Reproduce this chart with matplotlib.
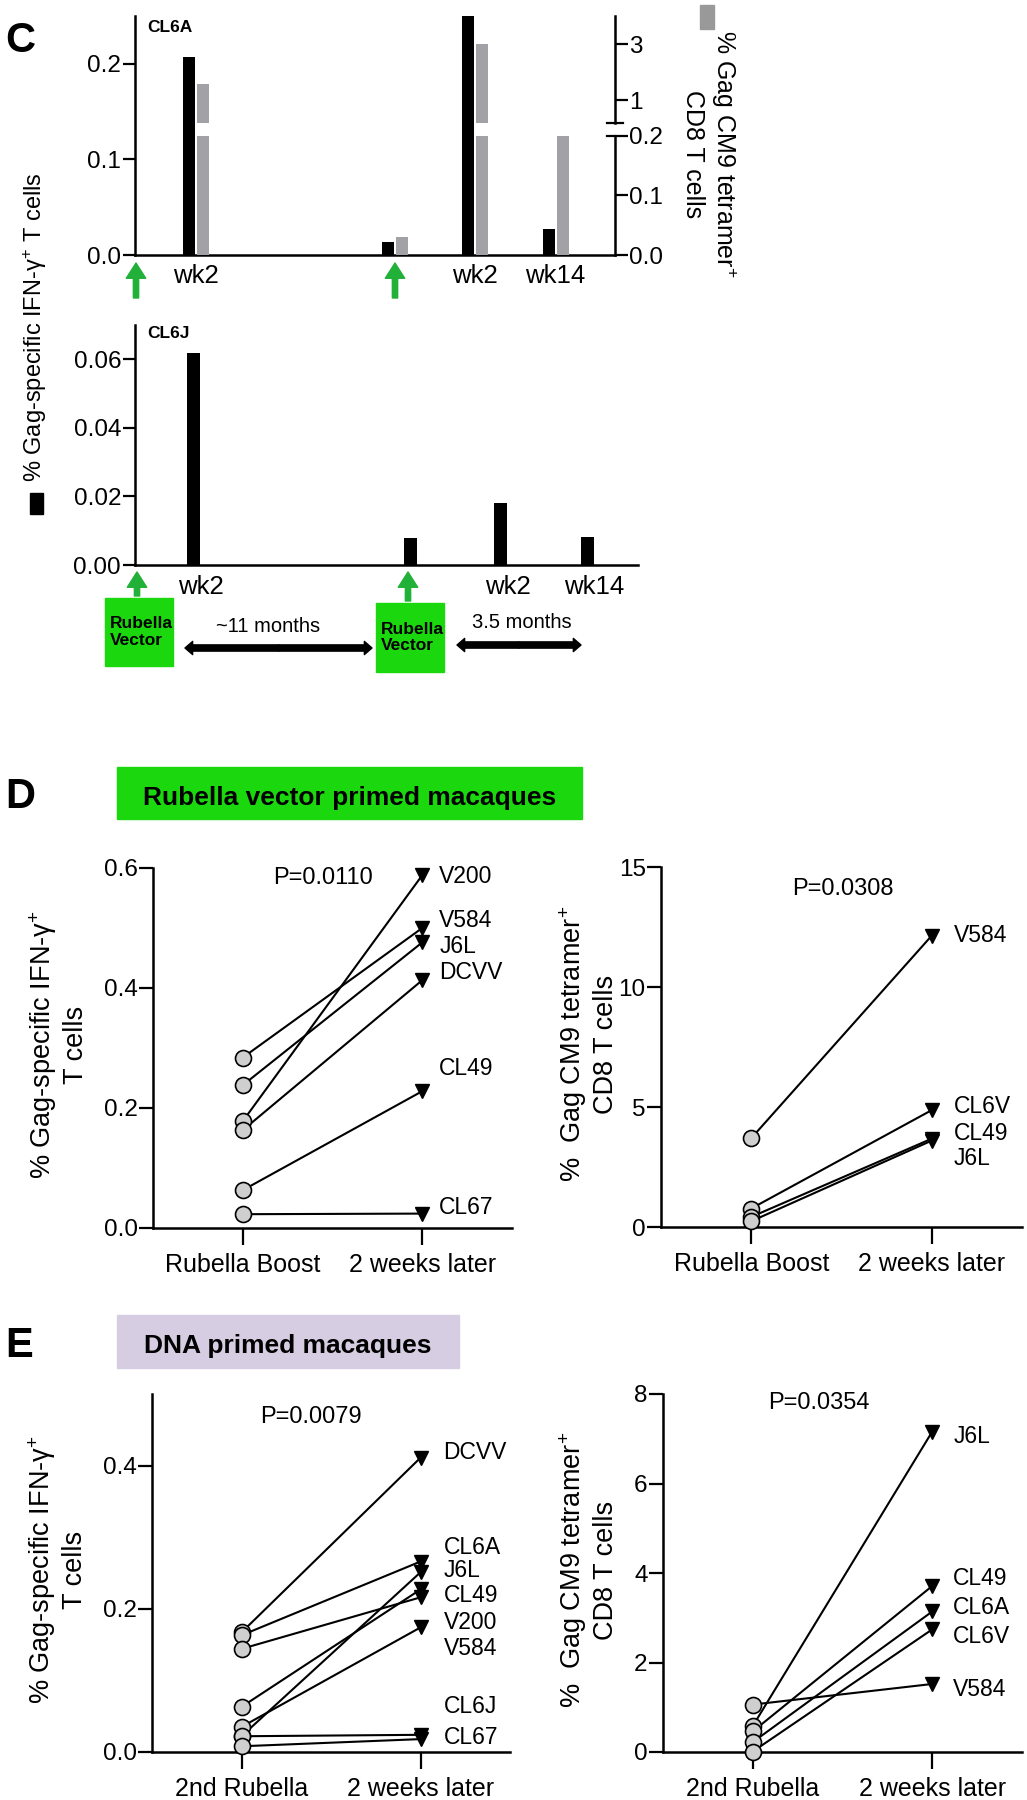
import matplotlib.pyplot as plt
from matplotlib.patches import Rectangle, FancyArrowPatch

plt.rcParams['font.family'] = ['Liberation Sans', 'DejaVu Sans']
plt.rcParams['mathtext.fontset'] = 'custom'
plt.rcParams['mathtext.rm'] = 'Liberation Sans'
plt.rcParams['mathtext.it'] = 'Liberation Sans:italic'
plt.rcParams['mathtext.bf'] = 'Liberation Sans:bold'
plt.rcParams['axes.linewidth'] = 1.8

# ---- panel C: CL6A (black = IFN-g, left axis; gray = tetramer, right broken axis)
c6a_black = [0.207, 0.0135, 0.25, 0.027]
c6a_gray = [1.58, 0.03, 3.0, 0.2]
# ---- panel C: CL6J
c6j_black = [0.0617, 0.0078, 0.018, 0.0082]
c_week_labels = ['wk2', '', 'wk2', 'wk14']

# ---- panel D
d_ifn_names = ['V584', 'J6L', 'V200', 'DCVV', 'CL49', 'CL67']
d_ifn_pre = [0.284, 0.238, 0.178, 0.163, 0.063, 0.023]
d_ifn_post = [0.500, 0.476, 0.588, 0.413, 0.228, 0.024]
d_tet_names = ['V584', 'CL6V', 'CL49', 'J6L']
d_tet_pre = [3.70, 0.77, 0.42, 0.24]
d_tet_post = [12.14, 4.87, 3.68, 3.60]
d_xlabels = ['Rubella Boost', '2 weeks later']

# ---- panel E
e_ifn_names = ['DCVV', 'CL6A', 'J6L', 'CL49', 'V200', 'V584', 'CL6J', 'CL67']
e_ifn_pre = [0.167, 0.163, 0.022, 0.063, 0.144, 0.035, 0.022, 0.008]
e_ifn_post = [0.411, 0.266, 0.251, 0.227, 0.216, 0.174, 0.024, 0.018]
e_tet_names = ['J6L', 'CL49', 'CL6A', 'CL6V', 'V584']
e_tet_pre = [0.58, 0.46, 0.22, 0.01, 1.06]
e_tet_post = [7.16, 3.71, 3.14, 2.74, 1.52]
e_xlabels = ['2nd Rubella', '2 weeks later']

p_values = ['P=0.0110', 'P=0.0308', 'P=0.0079', 'P=0.0354']

# layout (not data): bar positions, label positions
c6a_pos = [60.5, 260, 340, 420.5]
c6j_pos = [58.5, 276, 365.5, 452.5]
d_ifn_lab_y = [0.512, 0.469, 0.585, 0.426, 0.266, 0.035]
d_tet_lab_y = [12.15, 5.03, 3.9, 2.85]
e_ifn_lab_y = [0.418, 0.286, 0.254, 0.219, 0.181, 0.144, 0.064, 0.020]
e_tet_lab_y = [7.06, 3.87, 3.22, 2.57, 1.39]

W, H = 1027, 1800
fig = plt.figure(figsize=(W / 100, H / 100), dpi=100)
GREEN = '#1bd80e'
ARROW_GREEN = '#22b138'
GRAY = '#a2a2a6'
TICK = 17.5


def px_axes(x0, y0, x1, y1):
    return fig.add_axes([x0 / W, 1 - y1 / H, (x1 - x0) / W, (y1 - y0) / H])


def fx(x):
    return x / W


def fy(y):
    return 1 - y / H


def style(ax):
    ax.patch.set_alpha(0)
    for s in ['top', 'right']:
        ax.spines[s].set_visible(False)
    ax.tick_params(labelsize=TICK, length=9, width=1.6, pad=1)


def up_arrow(ax, x, y_tip, y_tail):
    ax.annotate('', xy=(x, y_tip), xytext=(x, y_tail),
                xycoords=('data', 'axes pixels'), textcoords=('data', 'axes pixels'),
                annotation_clip=False,
                arrowprops=dict(arrowstyle='simple,head_length=1.1,head_width=1.4,tail_width=0.38',
                                color=ARROW_GREEN, shrinkA=0, shrinkB=0, mutation_scale=10))


def double_arrow(x0, x1, y):
    xm = (x0 + x1) / 2
    for xe in (x0, x1):
        fig.add_artist(FancyArrowPatch((fx(xm), fy(y)), (fx(xe), fy(y)), transform=fig.transFigure,
                                       arrowstyle='simple,head_length=0.55,head_width=0.95,tail_width=0.45',
                                       color='black', shrinkA=0, shrinkB=0, mutation_scale=10))


# ================= Panel C top (CL6A) =================
ax = px_axes(135, 16, 615, 255)
style(ax)
ax.set_xlim(0, 480)
ax.set_ylim(0, 0.25)
ax.bar([p - 7 for p in c6a_pos], c6a_black, width=12, color='black')
ax.set_yticks([0, 0.1, 0.2])
ax.set_yticklabels(['0.0', '0.1', '0.2'])
ax.set_xticks([])
for p, lab in zip(c6a_pos, c_week_labels):
    if lab:
        ax.annotate(lab, (p, -21), xycoords=('data', 'axes pixels'), ha='center', va='center',
                    fontsize=18.5, annotation_clip=False)
up_arrow(ax, 1, -8, -43)
up_arrow(ax, c6a_pos[1], -8, -43)

ax_lo = px_axes(135, 136, 615, 255)
ax_hi = px_axes(135, 16, 615, 123)
for a, lim, ticks, labs in [(ax_lo, (0, 0.2), [0, 0.1, 0.2], ['0.0', '0.1', '0.2']),
                            (ax_hi, (0.2, 4), [1, 3], ['1', '3'])]:
    a.patch.set_alpha(0)
    for s in ['top', 'left', 'bottom']:
        a.spines[s].set_visible(False)
    a.set_xlim(0, 480)
    a.set_ylim(*lim)
    a.bar([p + 7 for p in c6a_pos], c6a_gray, width=12, color=GRAY)
    a.set_xticks([])
    a.yaxis.tick_right()
    a.set_yticks(ticks)
    a.set_yticklabels(labs)
    a.tick_params(labelsize=TICK, length=9, width=1.6, pad=1)
ax_hi.plot([1 - 8 / 480, 1 + 8 / 480], [0, 0], color='black', lw=1.6, transform=ax_hi.transAxes, clip_on=False)
ax_lo.plot([1 - 8 / 480, 1], [1, 1], color='black', lw=1.6, transform=ax_lo.transAxes, clip_on=False)

fig.text(fx(147), fy(27), 'CL6A', fontsize=12.5, fontweight='bold', va='center', ha='left')
fig.text(fx(5), fy(41), 'C', fontsize=30, fontweight='bold', va='center', ha='left')

# right label with gray key
fig.add_artist(Rectangle((fx(700), fy(29)), 14 / W, 24 / H, transform=fig.transFigure, color='#999999'))
fig.text(fx(710), fy(154), '% Gag CM9 tetramer$^{+}$\nCD8 T cells', rotation=270, fontsize=18,
         ha='center', va='center', multialignment='center')

# left shared label with black key
fig.add_artist(Rectangle((fx(30), fy(514)), 13 / W, 21 / H, transform=fig.transFigure, color='black'))
fig.text(fx(35), fy(327), '% Gag-specific IFN-γ$^{+}$ T cells', rotation=90, fontsize=17,
         ha='center', va='center')

# ================= Panel C bottom (CL6J) =================
ax = px_axes(135, 325, 638, 565)
style(ax)
ax.set_xlim(0, 503)
ax.set_ylim(0, 0.07)
ax.bar(c6j_pos, c6j_black, width=13, color='black')
ax.set_yticks([0, 0.02, 0.04, 0.06])
ax.set_yticklabels(['0.00', '0.02', '0.04', '0.06'])
ax.set_xticks([])
for p, lab in zip(c6j_pos, c_week_labels):
    if lab:
        ax.annotate(lab, (p + 7, -22), xycoords=('data', 'axes pixels'), ha='center', va='center',
                    fontsize=18.5, annotation_clip=False)
up_arrow(ax, 2, -7, -31)
up_arrow(ax, c6j_pos[1] - 3, -7, -36)
fig.text(fx(147), fy(333), 'CL6J', fontsize=12.5, fontweight='bold', va='center', ha='left')

# vector boxes and time spans
for (bx0, by0, bx1, by1, tx) in [(105, 598, 173, 666, 110), (376, 603, 444, 672, 381)]:
    fig.add_artist(Rectangle((fx(bx0), fy(by1)), (bx1 - bx0) / W, (by1 - by0) / H,
                             transform=fig.transFigure, color=GREEN))
    fig.text(fx(tx), fy((by0 + by1) / 2), 'Rubella\nVector', fontsize=12.5, fontweight='bold',
             ha='left', va='center', linespacing=1.1)
double_arrow(185, 372, 648)
double_arrow(457, 581, 645)
fig.text(fx(268), fy(627), '~11 months', fontsize=14.5, ha='center', va='center')
fig.text(fx(522), fy(623), '3.5 months', fontsize=14.5, ha='center', va='center')

# ================= headers =================
fig.add_artist(Rectangle((fx(117), fy(819)), (582 - 117) / W, (819 - 767) / H,
                         transform=fig.transFigure, color=GREEN))
fig.text(fx(349.5), fy(805), 'Rubella vector primed macaques', fontsize=19, fontweight='bold',
         ha='center', va='baseline')
fig.text(fx(5), fy(797), 'D', fontsize=30, fontweight='bold', va='center', ha='left')

fig.add_artist(Rectangle((fx(117), fy(1368)), (459 - 117) / W, (1368 - 1315) / H,
                         transform=fig.transFigure, color='#d6cde2'))
fig.text(fx(288), fy(1353), 'DNA primed macaques', fontsize=19, fontweight='bold',
         ha='center', va='baseline')
fig.text(fx(5), fy(1346), 'E', fontsize=30, fontweight='bold', va='center', ha='left')


# ================= paired plots =================
def paired(rect, pre, post, names, lab_y, lab_dx, ylim, yticks, yticklabels, xlabels,
           ylabel, ylabel_x, pval, pxy):
    ax = px_axes(*rect)
    style(ax)
    ax.set_xlim(-0.5, 1.5)
    ax.set_ylim(*ylim)
    for a, b in zip(pre, post):
        ax.plot([0, 1], [a, b], color='black', lw=1.5, zorder=2)
    ax.plot([0] * len(pre), pre, 'o', ms=11.5, mfc='#cfcfcf', mec='black', mew=1.2,
            zorder=3, clip_on=False)
    ax.plot([1] * len(post), post, 'v', ms=10.5, color='black', zorder=3, clip_on=False)
    for n, y in zip(names, lab_y):
        ax.text(1 + lab_dx, y, n, fontsize=16.5, ha='left', va='center')
    ax.set_yticks(yticks)
    ax.set_yticklabels(yticklabels)
    ax.set_xticks([0, 1])
    ax.set_xticklabels(xlabels, fontsize=18)
    ax.tick_params(axis='x', length=12, pad=6)
    ax.tick_params(axis='y', length=10)
    ax.text(pxy[0], pxy[1], pval, fontsize=17, ha='center', va='center')
    fig.text(fx(ylabel_x), fy((rect[1] + rect[3]) / 2 - 3), ylabel, rotation=90, fontsize=19.5,
             ha='center', va='center', multialignment='center')
    return ax


ifn_label = '% Gag-specific IFN-γ$^{+}$\nT cells'
tet_label = '%  Gag CM9 tetramer$^{+}$\nCD8 T cells'

paired((153, 868, 512, 1228), d_ifn_pre, d_ifn_post, d_ifn_names, d_ifn_lab_y, 0.095,
       (0, 0.6), [0, 0.2, 0.4, 0.6], ['0.0', '0.2', '0.4', '0.6'], d_xlabels,
       ifn_label, 58, p_values[0], (0.447, 0.583))
paired((661, 867, 1022, 1227), d_tet_pre, d_tet_post, d_tet_names, d_tet_lab_y, 0.12,
       (0, 15), [0, 5, 10, 15], ['0', '5', '10', '15'], d_xlabels,
       tet_label, 588, p_values[1], (0.505, 14.1))
paired((152, 1394, 510, 1752), e_ifn_pre, e_ifn_post, e_ifn_names, e_ifn_lab_y, 0.128,
       (0, 0.5), [0, 0.2, 0.4], ['0.0', '0.2', '0.4'], e_xlabels,
       ifn_label, 57, p_values[2], (0.39, 0.468))
paired((663, 1394, 1022, 1752), e_tet_pre, e_tet_post, e_tet_names, e_tet_lab_y, 0.117,
       (0, 8), [0, 2, 4, 6, 8], ['0', '2', '4', '6', '8'], e_xlabels,
       tet_label, 588, p_values[3], (0.367, 7.8))

fig.savefig('out.png', dpi=100)
